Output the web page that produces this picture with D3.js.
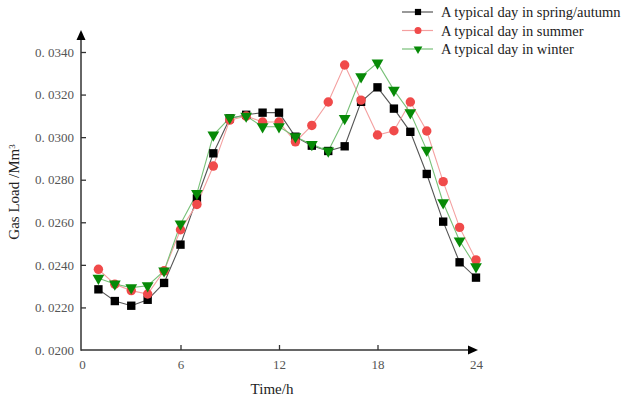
<!DOCTYPE html>
<html>
<head>
<meta charset="utf-8">
<script src="https://cdn.jsdelivr.net/npm/d3@7"></script>
<style>
  body { margin: 0; background: #fff; }
  svg { display: block; }
</style>
</head>
<body>
<div id="chart"></div>
<script>
var width = 636, height = 403;

var hours = [1,2,3,4,5,6,7,8,9,10,11,12,13,14,15,16,17,18,19,20,21,22,23,24]

var springAutumn = [0.02285,0.02230,0.02208,0.02236,0.02315,0.02495,0.02712,0.02924,0.03088,0.03105,0.03115,0.03115,
                    0.03002,0.02960,0.02935,0.02957,0.03166,0.03234,0.03134,0.03025,0.02827,0.02603,0.02412,0.02340]
var summer = [0.02379,0.02309,0.02279,0.02263,0.02372,0.02565,0.02684,0.02864,0.03080,0.03099,0.03071,0.03071,
              0.02978,0.03055,0.03165,0.03339,0.03174,0.03010,0.03030,0.03165,0.03029,0.02791,0.02576,0.02423]
var winter = [0.02337,0.02310,0.02293,0.02302,0.02372,0.02592,0.02736,0.03010,0.03091,0.03099,0.03049,0.03049,
              0.03002,0.02966,0.02935,0.03088,0.03284,0.03349,0.03221,0.03115,0.02939,0.02692,0.02513,0.02391]

var seriesNames = ["A typical day in spring/autumn", "A typical day in summer", "A typical day in winter"]

var xTicks = [0, 6, 12, 18, 24]
var yTicks = [0.0200, 0.0220, 0.0240, 0.0260, 0.0280, 0.0300, 0.0320, 0.0340]

var series = [
    {name: seriesNames[0], values: springAutumn, line: "#555", fill: "#000", symbol: d3.symbolSquare, size: 70},
    {name: seriesNames[1], values: summer, line: "#f4a0a0", fill: "#f04a4a", symbol: d3.symbolCircle, size: 70},
    {name: seriesNames[2], values: winter, line: "#78c078", fill: "#078a07", symbol: d3.symbolTriangle, size: 60}
]

var svg = d3.select("#chart").append("svg")
    .attr("width", width)
    .attr("height", height)

//Set scales
var xScale = d3.scaleLinear().domain([0, 24]).range([82, 476]),
    yScale = d3.scaleLinear().domain([0.0200, 0.0340]).range([350, 52]);

var axisColor = "#333"

//Append axis
var xAxis = svg.append("g")
    .attr("transform", "translate(0,350)")
    .call(d3.axisBottom(xScale).tickValues(xTicks).tickSizeInner(-5).tickSizeOuter(0).tickPadding(10))
xAxis.select(".domain").remove()
xAxis.selectAll(".tick line").attr("stroke", axisColor).attr("stroke-width", 1.3)
    .filter(d => d == 0 || d == 24).remove()
xAxis.selectAll(".tick text")
    .style("font-family", "'Liberation Serif', serif")
    .style("font-size", "13px")
    .attr("fill", "#555")

var yAxis = svg.append("g")
    .attr("transform", "translate(81,0)")
    .call(d3.axisLeft(yScale).tickValues(yTicks).tickSizeInner(-5).tickSizeOuter(0).tickPadding(7)
        .tickFormat(d => d3.format(".4f")(d).replace(".", ". ")))
yAxis.select(".domain").remove()
yAxis.selectAll(".tick line").attr("stroke", axisColor).attr("stroke-width", 1.3)
    .filter(d => d == 0.02).remove()
yAxis.selectAll(".tick text")
    .style("font-family", "'Liberation Serif', serif")
    .style("font-size", "13px")
    .attr("fill", "#555")

//Axis lines with arrows
svg.append("line")
    .attr("x1", 81).attr("y1", 350).attr("x2", 470).attr("y2", 350)
    .attr("stroke", axisColor).attr("stroke-width", 1.5)
svg.append("path")
    .attr("d", "M468,345.5L478,350L468,354.5Z")
    .attr("fill", "#000")
svg.append("line")
    .attr("x1", 81).attr("y1", 350.75).attr("x2", 81).attr("y2", 38)
    .attr("stroke", axisColor).attr("stroke-width", 1.5)
svg.append("path")
    .attr("d", "M76.5,40L81,30L85.5,40Z")
    .attr("fill", "#000")

//Axis titles
svg.append("text")
    .attr("x", 272)
    .attr("y", 394)
    .attr("text-anchor", "middle")
    .style("font-family", "'Liberation Serif', serif")
    .style("font-size", "15px")
    .attr("fill", "#222")
    .text("Time/h")

var yTitle = svg.append("text")
    .attr("transform", "translate(19,192) rotate(-90)")
    .attr("text-anchor", "middle")
    .style("font-family", "'Liberation Serif', serif")
    .style("font-size", "15px")
    .attr("fill", "#222")
yTitle.append("tspan").text("Gas Load /Mm")
yTitle.append("tspan").attr("dy", "-0.45em").style("font-size", "9px").text("3")

//Lines and markers
var line = d3.line()
    .x((d, i) => xScale(hours[i]))
    .y(d => yScale(d))

for(var i = 0; i < series.length; i++){
    var s = series[i]
    svg.append("path")
        .datum(s.values)
        .attr("fill", "none")
        .attr("stroke", s.line)
        .attr("stroke-width", 1.1)
        .attr("d", line)
}

for(var i = 0; i < series.length; i++){
    var s = series[i]
    var rot = s.symbol == d3.symbolTriangle ? " rotate(180)" : ""
    svg.append("g").selectAll("path")
        .data(s.values)
        .enter().append("path")
        .attr("d", d3.symbol().type(s.symbol).size(s.size))
        .attr("transform", (d, j) => "translate(" + xScale(hours[j]) + "," + yScale(d) + ")" + rot)
        .attr("fill", s.fill)
}

//Legend
var legend = svg.append("g")
for(var i = 0; i < series.length; i++){
    var s = series[i]
    var ly = 12 + i * 18.5
    legend.append("line")
        .attr("x1", 402).attr("x2", 433).attr("y1", ly).attr("y2", ly)
        .attr("stroke", s.line).attr("stroke-width", 1.2)
    var rot = s.symbol == d3.symbolTriangle ? " rotate(180)" : ""
    legend.append("path")
        .attr("d", d3.symbol().type(s.symbol).size(s.size * 0.55))
        .attr("transform", "translate(418," + ly + ")" + rot)
        .attr("fill", s.fill)
    legend.append("text")
        .attr("x", 441)
        .attr("y", ly + 5)
        .style("font-family", "'Liberation Serif', serif")
        .style("font-size", "14.5px")
        .attr("fill", "#222")
        .text(s.name)
}
</script>
</body>
</html>
